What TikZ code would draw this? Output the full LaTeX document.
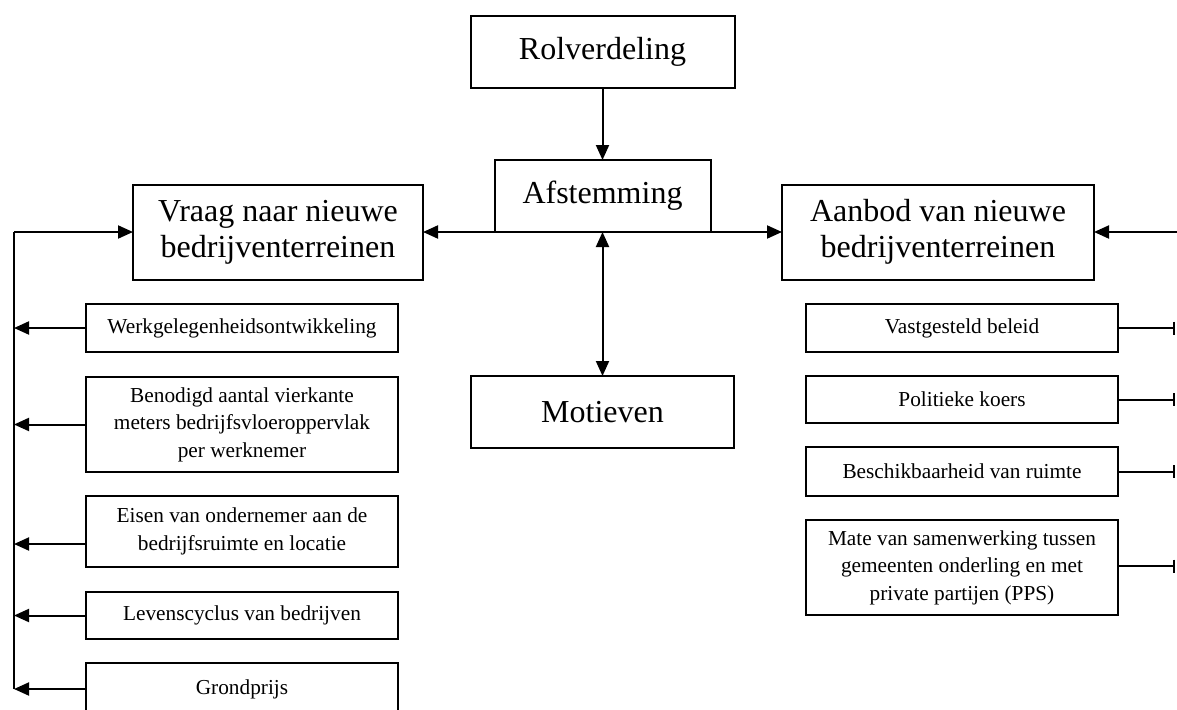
\documentclass[tikz,border=0pt]{standalone}
\usepackage{fontspec}
\setmainfont{Liberation Serif}
\usetikzlibrary{arrows.meta}
\begin{document}
\begin{tikzpicture}[x=1pt,y=-1pt,
  box/.style={draw,line width=2pt,inner sep=0pt,outer sep=0pt,align=center},
  big/.style={box,font=\fontsize{32}{36}\selectfont},
  small/.style={box,font=\fontsize{21.3}{27.5}\selectfont,minimum width=312pt},
  con/.style={line width=2pt},
  tri/.style={-{Triangle[length=15pt,width=13pt]}},
  bitri/.style={{Triangle[length=15pt,width=13pt]}-{Triangle[length=15pt,width=13pt]}},
  barend/.style={-{Bar[width=13pt,line width=2.5pt]}}
]
\useasboundingbox (0,0) rectangle (1177,709);

% main boxes
\node[big,minimum width=264pt,minimum height=72pt] (rol) at (602.5,52) {Rolverdeling};
\node[big,minimum width=216pt,minimum height=72pt] (afst) at (602.5,196) {Afstemming};
\node[big,minimum width=290pt,minimum height=95pt] (vraag) at (278,232) {Vraag naar nieuwe\\bedrijventerreinen};
\node[big,minimum width=312pt,minimum height=95pt] (aanbod) at (938,232) {Aanbod van nieuwe\\bedrijventerreinen};
\node[big,minimum width=263pt,minimum height=72pt] (mot) at (602.5,412) {Motieven};

% left boxes
\node[small,minimum height=48pt] (werk) at (242,328) {Werkgelegenheidsontwikkeling};
\node[small,minimum height=95pt] (beno) at (242,424.5) {Benodigd aantal vierkante\\meters bedrijfsvloeroppervlak\\per werknemer};
\node[small,minimum height=71pt] (eisen) at (242,531.5) {Eisen van ondernemer aan de\\bedrijfsruimte en locatie};
\node[small,minimum height=47pt] (lev) at (242,615.5) {Levenscyclus van bedrijven};
\node[small,minimum height=52pt] (grond) at (242,689) {Grondprijs};

% right boxes
\node[small,minimum height=48pt] (vast) at (962,328) {Vastgesteld beleid};
\node[small,minimum height=47pt] (pol) at (962,399.5) {Politieke koers};
\node[small,minimum height=49pt] (besch) at (962,471.5) {Beschikbaarheid van ruimte};
\node[small,minimum height=95pt] (mate) at (962,567.5) {Mate van samenwerking tussen\\gemeenten onderling en met\\private partijen (PPS)};

% centre connectors
\draw[con,tri] (rol.south) -- (afst.north);
\draw[con,tri] (afst.south west) -- (vraag.east);
\draw[con,tri] (afst.south east) -- (aanbod.west);
\draw[con,bitri] (mot.north) -- (afst.south);

% left bus
\coordinate (ltop) at (14,232);
\coordinate (lbot) at (14,689);
\draw[con] (lbot) -- (ltop);
\draw[con,tri] (ltop) -- (vraag.west);
\coordinate (e1) at ([yshift=-12.5pt]eisen.west);
\draw[con,tri] (werk.west) -- (werk.west -| ltop);
\draw[con,tri] (beno.west) -- (beno.west -| ltop);
\draw[con,tri] (e1) -- (e1 -| ltop);
\draw[con,tri] (lev.west) -- (lev.west -| ltop);
\draw[con,tri] (grond.west) -- (lbot);

% right side
\coordinate (rin) at (1177,232);
\coordinate (rx) at (1175,232);
\draw[con,tri] (rin) -- (aanbod.east);
\draw[con,barend] (vast.east) -- (vast.east -| rx);
\draw[con,barend] (pol.east) -- (pol.east -| rx);
\draw[con,barend] (besch.east) -- (besch.east -| rx);
\coordinate (m1) at ([yshift=1.5pt]mate.east);
\draw[con,barend] (m1) -- (m1 -| rx);
\end{tikzpicture}
\end{document}
